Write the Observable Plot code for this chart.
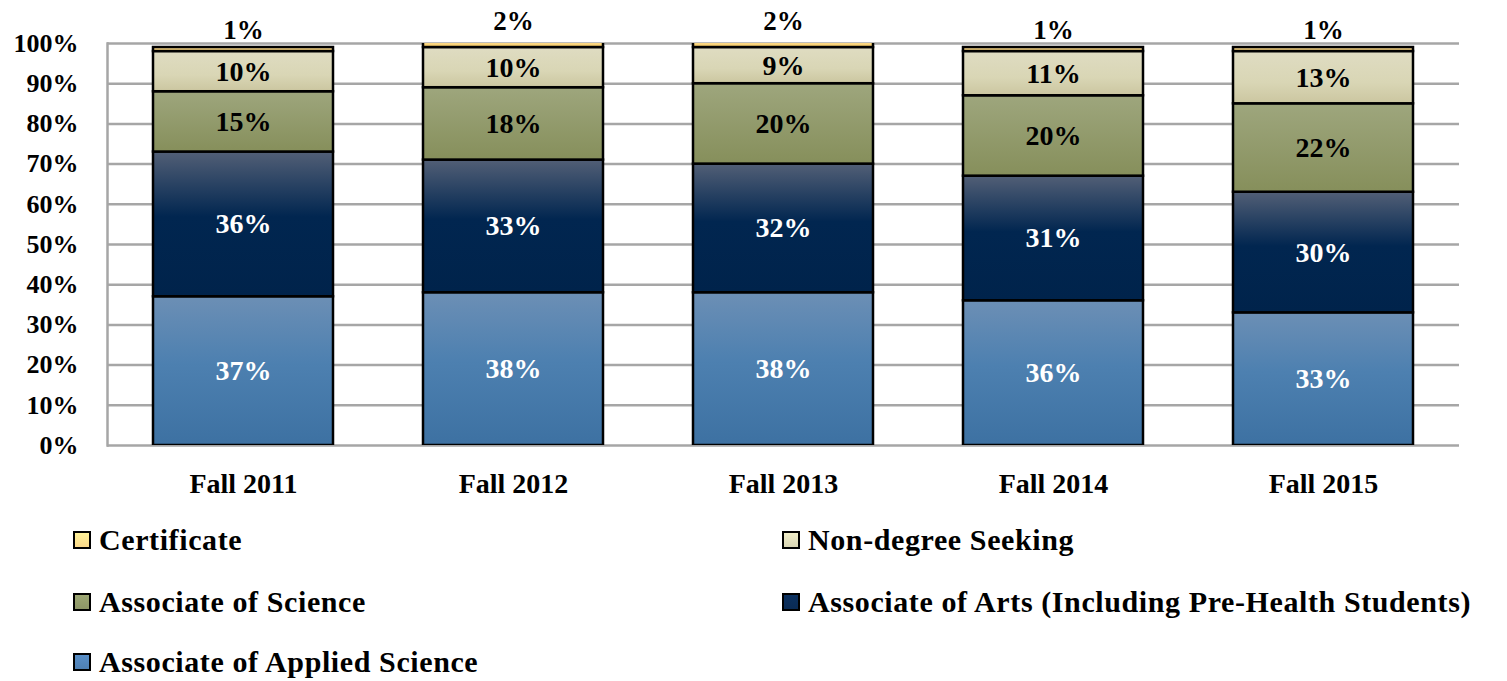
<!DOCTYPE html>
<html>
<head>
<meta charset="utf-8">
<script src="https://cdn.jsdelivr.net/npm/d3@7"></script>
<script src="https://cdn.jsdelivr.net/npm/@observablehq/plot@0.6"></script>
<style>
  html, body { margin: 0; padding: 0; background: #fff; }
  #wrap { position: relative; width: 1507px; height: 681px; font-family: "Liberation Serif", "DejaVu Serif", serif; font-weight: bold; }
  #legend { position: absolute; left: 0; top: 520px; width: 1507px; height: 161px; }
  .item { position: absolute; display: flex; align-items: center; font-size: 30px; letter-spacing: 0.6px; color: #000; white-space: nowrap; }
  .sw { width: 14px; height: 14px; border: 2px solid #000; margin-right: 8px; box-sizing: content-box; }
</style>
</head>
<body>
<div id="wrap">
  <div id="chart"></div>
  <div id="legend"></div>
</div>
<script>
const years = ["Fall 2011", "Fall 2012", "Fall 2013", "Fall 2014", "Fall 2015"];
const seriesNames = ["Associate of Applied Science", "Associate of Arts (Including Pre-Health Students)", "Associate of Science", "Non-degree Seeking", "Certificate"];
const appliedScience = [37, 38, 38, 36, 33];
const arts = [36, 33, 32, 31, 30];
const science = [15, 18, 20, 20, 22];
const nonDegree = [10, 10, 9, 11, 13];
const certificate = [1, 2, 2, 1, 1];
const yTicks = [0, 10, 20, 30, 40, 50, 60, 70, 80, 90, 100];

const seriesValues = [appliedScience, arts, science, nonDegree, certificate];
const gradIds = ["g-aas", "g-aa", "g-as", "g-nds", "g-cert"];
const labelColors = ["#fff", "#fff", "#000", "#000", "#000"];
const swatchColors = ["#4f80b3", "#0a2b55", "#8d9667", "#d8d5b4", "#fbd98a"];

const data = [];
seriesNames.forEach((s, si) => {
  years.forEach((y, yi) => {
    data.push({year: y, series: s, si, value: seriesValues[si][yi] / 100, label: seriesValues[si][yi] + "%"});
  });
});

const font = "Liberation Serif";
const plot = Plot.plot({
  width: 1507,
  height: 520,
  marginLeft: 107,
  marginRight: 48,
  marginTop: 43,
  marginBottom: 75,
  style: {fontFamily: font, fontWeight: "bold", fontSize: "26px", color: "#000", background: "#fff"},
  x: {domain: years, paddingInner: 0.334, paddingOuter: 0.167, label: null},
  y: {domain: [0, 1], label: null},
  color: {domain: seriesNames, range: gradIds.map(id => `url(#${id})`)},
  marks: [
    Plot.ruleY(yTicks.map(t => t / 100), {stroke: "#a6a6a6", strokeWidth: 2.5}),
    Plot.frame({anchor: "left", stroke: "#a6a6a6", strokeWidth: 2.5}),
    Plot.axisY(yTicks.map(t => t / 100), {tickSize: 0, tickPadding: 29, tickFormat: d => Math.round(d * 100) + "%", fontSize: 26, fontWeight: "bold", fill: "#000"}),
    Plot.axisX({tickSize: 0, tickPadding: 28, fontSize: 28, fontWeight: "bold", fill: "#000"}),
    Plot.barY(data, {x: "year", y: "value", fill: "series", z: "series", order: seriesNames, stroke: "#000", strokeWidth: 2.5, clip: true}),
    Plot.text(data, Plot.stackY({x: "year", y: "value", z: "series", order: seriesNames,
      text: d => d.series === "Certificate" ? null : d.label,
      fill: d => labelColors[d.si], fontSize: 28, fontWeight: "bold"})),
    Plot.text(data, Plot.stackY2({x: "year", y: "value", z: "series", order: seriesNames,
      text: d => d.series === "Certificate" ? d.label : null,
      lineAnchor: "bottom", dy: -9, fill: "#000", fontSize: 27, fontWeight: "bold"}))
  ]
});

// gradients
const svg = d3.select(plot);
const defs = svg.insert("defs", ":first-child");
const grads = [
  ["g-aas", [[0, "#6c8fb5"], [0.45, "#4d80b0"], [1, "#3d71a2"]]],
  ["g-aa", [[0, "#525f76"], [0.45, "#012650"], [1, "#00234b"]]],
  ["g-as", [[0, "#9ea67d"], [1, "#868f5b"]]],
  ["g-nds", [[0, "#dfdcc2"], [0.6, "#d9d6b5"], [1, "#cbc6a0"]]],
  ["g-cert", [[0, "#fde6a8"], [1, "#f7c964"]]]
];
grads.forEach(([id, stops]) => {
  const g = defs.append("linearGradient").attr("id", id).attr("x1", 0).attr("y1", 0).attr("x2", 0).attr("y2", 1);
  stops.forEach(([o, c]) => g.append("stop").attr("offset", o).attr("stop-color", c));
});
document.getElementById("chart").appendChild(plot);

// legend
const legend = document.getElementById("legend");
const pos = [
  [4, 73, 20], [3, 782, 20],
  [2, 73, 82], [1, 782, 82],
  [0, 73, 142]
];
pos.forEach(([si, x, cy]) => {
  const item = document.createElement("div");
  item.className = "item";
  item.style.left = x + "px";
  item.style.top = (cy - 18) + "px";
  item.style.height = "36px";
  const sw = document.createElement("div");
  sw.className = "sw";
  sw.style.background = `linear-gradient(${d3.color(swatchColors[si]).brighter(0.3)}, ${swatchColors[si]})`;
  const t = document.createElement("span");
  t.textContent = seriesNames[si];
  item.appendChild(sw);
  item.appendChild(t);
  legend.appendChild(item);
});
</script>
</body>
</html>
